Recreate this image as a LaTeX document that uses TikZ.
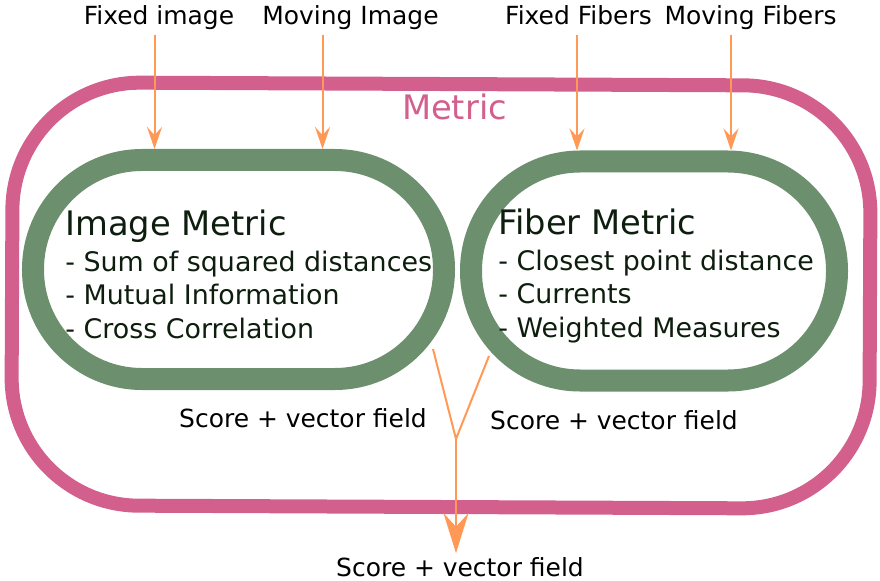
\documentclass[tikz,border=0pt]{standalone}
\usepackage{fontspec}
\setmainfont{DejaVu Sans}
\usetikzlibrary{arrows.meta, positioning, calc}
\definecolor{metricPink}{HTML}{D35F8D}
\definecolor{boxGreen}{HTML}{6C8F6E}
\definecolor{feedOrange}{HTML}{FF9955}
\definecolor{textGreen}{HTML}{0E1E0E}
\newcommand{\mlabel}{\fontsize{14.2}{17}\selectfont}
\newcommand{\mlist}{\fontsize{15.3}{19.06}\selectfont}
\newcommand{\mtitle}{\fontsize{19.2}{23}\selectfont}

\begin{document}
\begin{tikzpicture}[x=0.2mm, y=-0.2mm,
        frame/.style={draw=metricPink, line width=2.8mm, rounded corners=25.5mm},
        mbox/.style={draw=boxGreen, line width=4.4mm, rounded corners=21.8mm,
            minimum height=43.8mm, inner sep=0},
        txt/.style={font=\mlist, text=textGreen, align=left, inner sep=0, anchor=north west},
        lbl/.style={font=\mlabel, text depth=3.5pt, inner sep=2pt},
        feed/.style={-{Stealth[length=4.4mm, width=3mm, inset=1.6mm]}, feedOrange, line width=0.4mm},
        flow/.style={feedOrange, line width=0.4mm},
        res/.style={-{Stealth[length=8mm, width=5mm, inset=2.7mm]}, feedOrange, line width=0.4mm}]
        \useasboundingbox (0,0) rectangle (880,581);
        % outer metric frame
        \draw[frame, rotate around={-0.25:(441,295.5)}] (12,84) rectangle (870,507);
        \node[font=\mtitle, text=metricPink, anchor=base, inner sep=0] (metric) at (454.5,119.5) {Metric};
        % the two metrics
        \node[mbox, minimum width=82.2mm] (imgbox) at (238.5,269.5) {};
        \node[mbox, minimum width=73.2mm] (fibbox) at (654,271) {};
        \node[txt] (imgtxt) at (65,209.4) {{\mtitle Image Metric}\\[1.4pt]- Sum of squared distances\\- Mutual Information\\- Cross Correlation};
        \node[txt] (fibtxt) at (498,208.4) {{\mtitle Fiber Metric}\\[1.4pt]- Closest point distance\\- Currents\\- Weighted Measures};
        % inputs
        \node[lbl, anchor=base] (fixedimg) at (159,24.5) {Fixed image};
        \node[lbl, anchor=base] (movimg) at (350.5,24.5) {Moving Image};
        \node[lbl, anchor=base] (fixedfib) at (578.5,24.5) {Fixed Fibers};
        \node[lbl, anchor=base] (movfib) at (750.5,24.5) {Moving Fibers};
        \coordinate (imgL) at ($(imgbox.north)+(-84,0)$);
        \coordinate (imgR) at ($(imgbox.north)+(84,0)$);
        \coordinate (fibL) at ($(fibbox.north)+(-77,0)$);
        \coordinate (fibR) at ($(fibbox.north)+(77,0)$);
        \draw[feed] (fixedimg.south -| imgL) -- (imgL);
        \draw[feed] (movimg.south -| imgR) -- (imgR);
        \draw[feed] (fixedfib.south -| fibL) -- (fibL);
        \draw[feed] (movfib.south -| fibR) -- (fibR);
        % outputs
        \node[lbl, anchor=base] (imgscore) at (303,427) {Score + vector field};
        \node[lbl, anchor=base] (fibscore) at (614,429) {Score + vector field};
        \node[lbl, anchor=base] (total) at (460,576) {Score + vector field};
        \coordinate (imgout) at (433,349);
        \coordinate (fibout) at (489,356);
        \coordinate (merge) at (456,439);
        \draw[flow] (imgout) -- (merge) -- (fibout);
        \draw[res] (merge) -- (merge |- total.north);
\end{tikzpicture}
\end{document}
